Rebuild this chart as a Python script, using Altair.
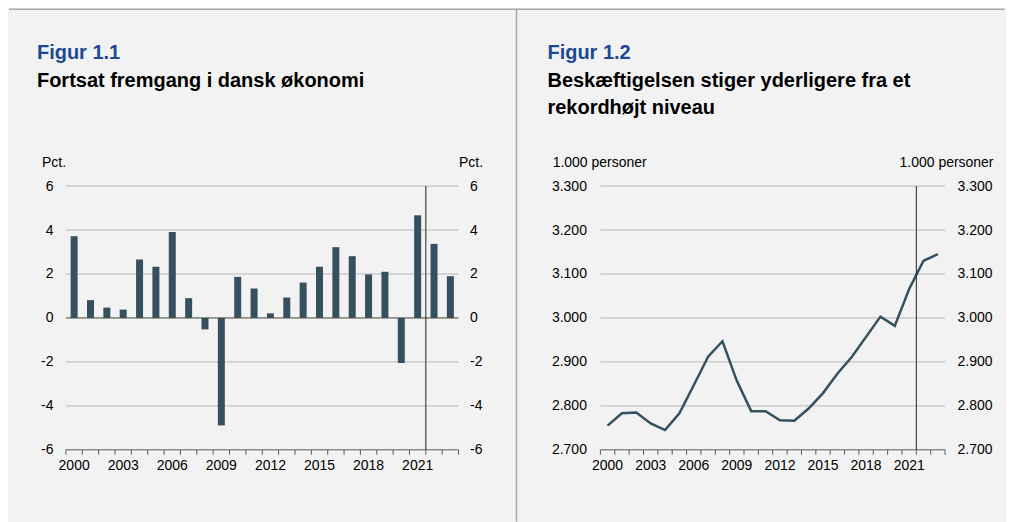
import altair as alt
import pandas as pd

# ---------------- data ----------------
years = list(range(2000, 2024))
gdp_growth = [3.72, 0.81, 0.47, 0.38, 2.66, 2.33, 3.91, 0.90, -0.52, -4.89,
              1.87, 1.34, 0.21, 0.93, 1.61, 2.33, 3.22, 2.81, 1.98, 2.10,
              -2.05, 4.67, 3.37, 1.90]
employment = [2755, 2783, 2785, 2760, 2745, 2783, 2847, 2912, 2947, 2857,
              2788, 2788, 2767, 2766, 2794, 2829, 2873, 2911, 2957, 3003,
              2982, 3066, 3130, 3145]
label_years = [2000, 2003, 2006, 2009, 2012, 2015, 2018, 2021]
forecast_split = [2021.5]
zero_line = [0]
pct_ticks = [-6, -4, -2, 0, 2, 4, 6]
pct_grid = [-4, -2, 2, 4, 6]
emp_ticks = [2700, 2800, 2900, 3000, 3100, 3200, 3300]
emp_grid = [2800, 2900, 3000, 3100, 3200, 3300]

title1 = "Figur 1.1"
subtitle1 = ["Fortsat fremgang i dansk økonomi"]
title2 = "Figur 1.2"
subtitle2 = ["Beskæftigelsen stiger yderligere fra et", "rekordhøjt niveau"]
unit1 = "Pct."
unit2 = "1.000 personer"

# ---------------- style ----------------
FONT = "Liberation Sans"
BLUE = "#1c4a92"
BAR = "#35505f"
GRID = "#b8b8b8"
AXC = "#5a5a5a"
BG = "#f2f2f2"
W1, W2, H = 393, 345, 264
TITLE_SIZE = 20

df1 = pd.DataFrame({"year": years, "value": gdp_growth})
df2 = pd.DataFrame({"year": years, "value": employment})
tick_edges = [1999.5 + i for i in range(25)]
one = pd.DataFrame({"v": [0]})
xs = alt.Scale(domain=[1999.5, 2023.5], nice=False, zero=False, padding=0)
X_NOAX = dict(scale=xs, axis=None)


def y_axis(orient, title, title_x, align, pad, expr, values):
    return alt.Axis(
        orient=orient, values=values, grid=False, domain=False,
        ticks=False, labelExpr=expr, labelPadding=pad, labelFont=FONT,
        labelFontSize=14, labelColor="black", title=title, titleAngle=0,
        titleAlign=align, titleBaseline="alphabetic", titleX=title_x, titleY=-19.5,
        titleFont=FONT, titleFontSize=14, titleFontWeight="normal", titleColor="black",
    )


def heading(title, subtitle, x0):
    rows = [{"t": title, "y": -127, "kind": "title"}]
    for i, s in enumerate(subtitle):
        rows.append({"t": s, "y": -98.7 + 26.3 * i, "kind": "sub"})
    d = pd.DataFrame(rows)
    return alt.Chart(d).mark_text(
        align="left", baseline="alphabetic", font=FONT, fontSize=TITLE_SIZE, fontWeight="bold"
    ).encode(
        x=alt.value(x0),
        y=alt.Y("y:Q", scale=None, axis=None),
        text="t:N",
        color=alt.Color("kind:N", scale=alt.Scale(domain=["title", "sub"], range=[BLUE, "black"]), legend=None),
    )


def x_axis_layers(ys, ymin):
    domain_line = alt.Chart(pd.DataFrame({"v": [ymin]})).mark_rule(color=AXC, strokeWidth=1).encode(
        y=alt.Y("v:Q", scale=ys, axis=None)
    )
    ticks = alt.Chart(pd.DataFrame({"t": tick_edges})).mark_rule(color=AXC, strokeWidth=1).encode(
        x=alt.X("t:Q", **X_NOAX), y=alt.value(H), y2=alt.value(H + 5)
    )
    labels = alt.Chart(pd.DataFrame({"yr": label_years, "lab": [str(y) for y in label_years]})).mark_text(
        font=FONT, fontSize=14, color="black", baseline="alphabetic", align="center"
    ).encode(x=alt.X("yr:Q", **X_NOAX), y=alt.value(H + 20), text="lab:N")
    return [domain_line, ticks, labels]


def split_rule():
    return alt.Chart(pd.DataFrame({"v": forecast_split})).mark_rule(color="#222222", strokeWidth=1).encode(
        x=alt.X("v:Q", **X_NOAX)
    )


# ---------------- left panel ----------------
ys1 = alt.Scale(domain=[-6, 6], nice=False)
pct_expr = "'' + datum.value"
grid1 = alt.Chart(pd.DataFrame({"v": pct_grid})).mark_rule(color=GRID, strokeWidth=1).encode(
    y=alt.Y("v:Q", scale=ys1, axis=None)
)
bars = alt.Chart(df1).mark_bar(color=BAR, size=7).encode(
    x=alt.X("year:Q", **X_NOAX),
    y=alt.Y("value:Q", scale=ys1,
            axis=y_axis("left", unit1, -24.5, "left", 13, pct_expr, pct_ticks)),
)
bars_r = alt.Chart(df1).mark_bar(opacity=0, size=7).encode(
    x=alt.X("year:Q", **X_NOAX),
    y=alt.Y("value:Q", scale=ys1,
            axis=y_axis("right", unit1, 24, "right", 11, pct_expr, pct_ticks)),
)
zero = alt.Chart(pd.DataFrame({"v": zero_line})).mark_rule(color="#404040", strokeWidth=1).encode(
    y=alt.Y("v:Q", scale=ys1, axis=None)
)
top_border = alt.Chart(one).mark_rule(color="#a6a6a6", strokeWidth=1.5).encode(
    x=alt.value(-57), x2=alt.value(939.5), y=alt.value(-177)
)
separator = alt.Chart(one).mark_rule(color="#a6a6a6", strokeWidth=1.5).encode(
    x=alt.value(451), y=alt.value(-177), y2=alt.value(336)
)

left = alt.layer(
    top_border, separator, grid1, *x_axis_layers(ys1, -6), bars, bars_r, zero, split_rule(),
    heading(title1, subtitle1, -29)
).resolve_axis(y="independent").properties(width=W1, height=H)

# ---------------- right panel ----------------
ys2 = alt.Scale(domain=[2700, 3300], nice=False, zero=False)
emp_expr = "replace(format(datum.value, ','), ',', '.')"
grid2 = alt.Chart(pd.DataFrame({"v": emp_grid})).mark_rule(color=GRID, strokeWidth=1).encode(
    y=alt.Y("v:Q", scale=ys2, axis=None)
)
line = alt.Chart(df2).mark_line(color=BAR, strokeWidth=2.5).encode(
    x=alt.X("year:Q", **X_NOAX),
    y=alt.Y("value:Q", scale=ys2,
            axis=y_axis("left", unit2, -48.3, "left", 14, emp_expr, emp_ticks)),
)
line_r = alt.Chart(df2).mark_line(opacity=0).encode(
    x=alt.X("year:Q", **X_NOAX),
    y=alt.Y("value:Q", scale=ys2,
            axis=y_axis("right", unit2, 48, "right", 12, emp_expr, emp_ticks)),
)

right = alt.layer(
    grid2, *x_axis_layers(ys2, 2700), line, line_r, split_rule(), heading(title2, subtitle2, -53)
).resolve_axis(y="independent").properties(width=W2, height=H)

chart = alt.hconcat(left, right, spacing=142, bounds="flush").properties(
    padding=0, background=BG
).configure_view(stroke=None)

chart.save("out.html", embed_options={"renderer": "svg", "actions": False})
